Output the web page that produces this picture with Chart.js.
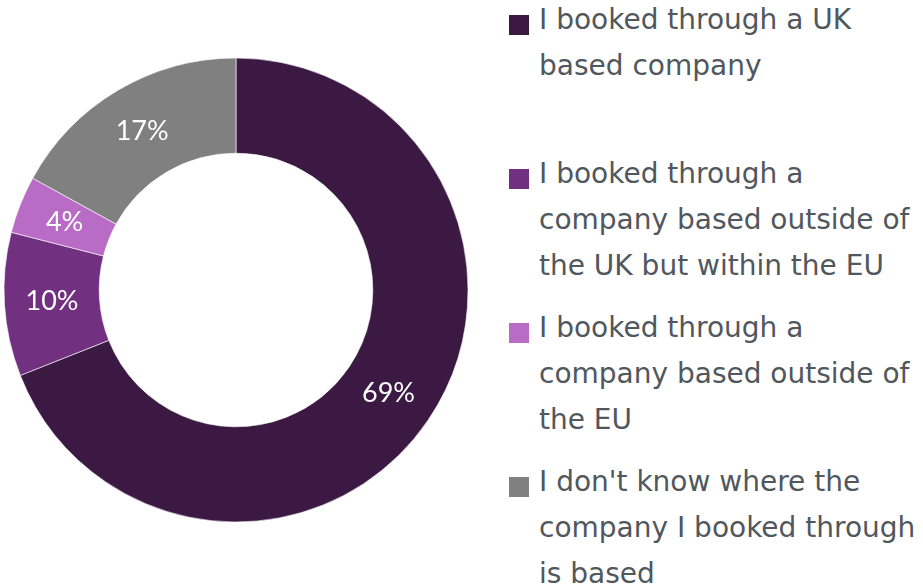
<!DOCTYPE html>
<html>
<head>
<meta charset="utf-8">
<script src="https://cdn.jsdelivr.net/npm/chart.js@4"></script>
<style>
  html, body { margin: 0; padding: 0; background: #fff; }
  body { width: 923px; height: 588px; position: relative; overflow: hidden; }
  #wrap { position: absolute; left: 0; top: 0; width: 472px; height: 580px; }
  #legend { position: absolute; left: 509px; top: 0; width: 414px;
    font-family: "DejaVu Sans", sans-serif; font-size: 28px; line-height: 46px; color: #50575d; }
  .item { position: absolute; left: 0; width: 414px; }
  .box { position: absolute; left: 0; top: 15px; width: 20px; height: 20px; }
  .txt { position: absolute; left: 30px; top: -3px; width: 400px; white-space: nowrap; }
</style>
</head>
<body>
<div id="wrap"><canvas id="donut"></canvas></div>
<div id="legend"></div>
<script>
const labels = [
  "I booked through a UK based company",
  "I booked through a company based outside of the UK but within the EU",
  "I booked through a company based outside of the EU",
  "I don't know where the company I booked through is based"
];
const legendLines = [
  ["I booked through a UK", "based company"],
  ["I booked through a", "company based outside of", "the UK but within the EU"],
  ["I booked through a", "company based outside of", "the EU"],
  ["I don't know where the", "company I booked through", "is based"]
];
const values = [69, 10, 4, 17];
const colors = ["#3c1942", "#723080", "#b96cc6", "#808080"];

// percentage labels inside each slice
const sliceLabels = {
  id: "sliceLabels",
  afterDatasetsDraw(chart) {
    const ctx = chart.ctx;
    const meta = chart.getDatasetMeta(0);
    ctx.save();
    ctx.fillStyle = "#ffffff";
    ctx.font = "27px Lato, sans-serif";
    ctx.textAlign = "center";
    ctx.textBaseline = "middle";
    meta.data.forEach((arc, i) => {
      const p = arc.tooltipPosition();
      ctx.fillText(values[i] + "%", p.x, p.y);
    });
    ctx.restore();
  }
};

new Chart(document.getElementById("donut"), {
  type: "doughnut",
  data: {
    labels: labels,
    datasets: [{
      data: values,
      backgroundColor: colors,
      borderColor: "#ffffff",
      borderWidth: 0.6,
      hoverOffset: 0
    }]
  },
  options: {
    responsive: true,
    maintainAspectRatio: false,
    animation: false,
    radius: 232,
    cutout: 139,
    plugins: {
      legend: { display: false },
      tooltip: { enabled: false }
    }
  },
  plugins: [sliceLabels]
});

// legend on the right
const legend = document.getElementById("legend");
legendLines.forEach((lines, i) => {
  const item = document.createElement("div");
  item.className = "item";
  item.style.top = (i * 154) + "px";
  const box = document.createElement("div");
  box.className = "box";
  box.style.background = colors[i];
  const txt = document.createElement("div");
  txt.className = "txt";
  txt.innerHTML = lines.join("<br>");
  item.appendChild(box);
  item.appendChild(txt);
  legend.appendChild(item);
});
</script>
</body>
</html>
